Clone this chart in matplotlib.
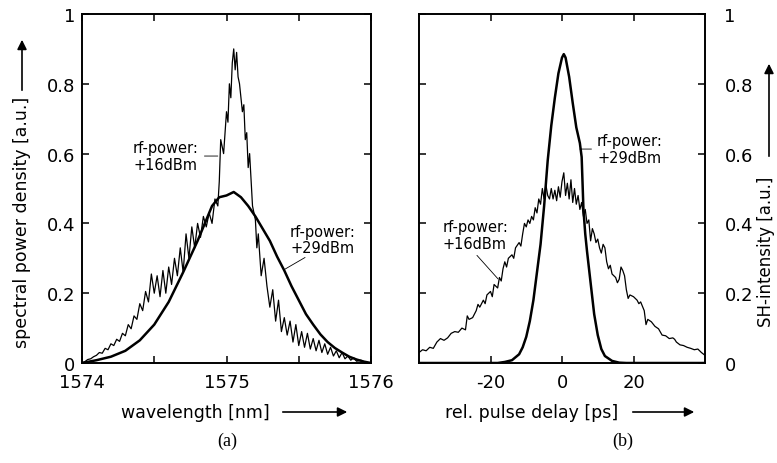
import matplotlib
matplotlib.use('Agg')
import matplotlib.pyplot as plt

plt.rcParams['font.family'] = ['DejaVu Sans']
plt.rcParams['axes.unicode_minus'] = False

# (a) optical spectrum, +16 dBm (noisy, fringes) and +29 dBm (smooth)
wl_16 = [1574.00, 1574.02, 1574.04, 1574.06, 1574.08, 1574.10, 1574.12, 1574.14, 1574.16, 1574.18,
         1574.20, 1574.22, 1574.24, 1574.26, 1574.28, 1574.30, 1574.32, 1574.34, 1574.36, 1574.38,
         1574.40, 1574.42, 1574.44, 1574.46, 1574.48, 1574.50, 1574.52, 1574.54, 1574.56, 1574.58,
         1574.60, 1574.62, 1574.64, 1574.66, 1574.68, 1574.70, 1574.72, 1574.74, 1574.76, 1574.78,
         1574.80, 1574.82, 1574.84, 1574.86, 1574.88, 1574.90, 1574.92, 1574.94, 1574.95, 1574.96,
         1574.98, 1575.00, 1575.01, 1575.02, 1575.03, 1575.04, 1575.05, 1575.06, 1575.07, 1575.08,
         1575.09, 1575.10, 1575.11, 1575.12, 1575.13, 1575.14, 1575.15, 1575.16, 1575.18, 1575.20,
         1575.21, 1575.22, 1575.24, 1575.26, 1575.28, 1575.30, 1575.32, 1575.34, 1575.36, 1575.38,
         1575.40, 1575.42, 1575.44, 1575.46, 1575.48, 1575.50, 1575.52, 1575.54, 1575.56, 1575.58,
         1575.60, 1575.62, 1575.64, 1575.66, 1575.68, 1575.70, 1575.72, 1575.74, 1575.76, 1575.78,
         1575.80, 1575.82, 1575.84, 1575.86, 1575.88, 1575.90, 1575.93, 1575.96, 1576.00]
spec_16 = [0.000, 0.004, 0.010, 0.012, 0.018, 0.022, 0.030, 0.028, 0.042, 0.038,
           0.055, 0.050, 0.068, 0.062, 0.085, 0.078, 0.110, 0.098, 0.135, 0.125,
           0.170, 0.150, 0.205, 0.175, 0.255, 0.200, 0.250, 0.190, 0.265, 0.200,
           0.275, 0.225, 0.300, 0.250, 0.330, 0.260, 0.370, 0.300, 0.390, 0.330,
           0.400, 0.360, 0.420, 0.390, 0.430, 0.400, 0.470, 0.450, 0.520, 0.640,
           0.600, 0.720, 0.690, 0.800, 0.760, 0.860, 0.900, 0.840, 0.890, 0.820,
           0.800, 0.760, 0.720, 0.740, 0.640, 0.660, 0.560, 0.600, 0.450, 0.410,
           0.330, 0.370, 0.250, 0.300, 0.220, 0.160, 0.210, 0.120, 0.180, 0.090,
           0.130, 0.080, 0.120, 0.060, 0.110, 0.050, 0.090, 0.045, 0.085, 0.040,
           0.070, 0.035, 0.065, 0.030, 0.055, 0.025, 0.045, 0.020, 0.035, 0.015,
           0.030, 0.012, 0.020, 0.008, 0.015, 0.005, 0.008, 0.002, 0.000]

wl_29 = [1574.00, 1574.10, 1574.20, 1574.30, 1574.40, 1574.50, 1574.60, 1574.70, 1574.80, 1574.85,
         1574.90, 1574.95, 1575.00, 1575.05, 1575.10, 1575.15, 1575.20, 1575.25, 1575.30, 1575.35,
         1575.40, 1575.45, 1575.50, 1575.55, 1575.60, 1575.65, 1575.70, 1575.75, 1575.80, 1575.85,
         1575.90, 1575.95, 1576.00]
spec_29 = [0.000, 0.008, 0.018, 0.035, 0.065, 0.110, 0.175, 0.260, 0.350, 0.400,
           0.450, 0.475, 0.480, 0.490, 0.475, 0.450, 0.420, 0.385, 0.350, 0.305,
           0.265, 0.220, 0.180, 0.140, 0.110, 0.082, 0.060, 0.043, 0.030, 0.018,
           0.010, 0.004, 0.000]

# (b) SH autocorrelation
delay_16 = [-40, -39, -38, -37, -36, -35, -34, -33, -32, -31, -30, -29, -28, -27, -26.5, -26, -25, -24,
            -23.5, -23, -22, -21.5, -21, -20, -19.5, -19, -18, -17.5, -17, -16.5, -16, -15.5, -15,
            -14, -13.5, -13, -12, -11.5, -11, -10.5, -10, -9.5, -9, -8.5, -8, -7.5, -7, -6.5, -6,
            -5.5, -5, -4.5, -4, -3.5, -3, -2.5, -2, -1.5, -1, -0.5, 0, 0.5, 1, 1.5, 2, 2.5, 3, 3.5,
            4, 4.5, 5, 5.5, 6, 6.5, 7, 7.5, 8, 8.5, 9, 9.5, 10, 10.5, 11, 11.5, 12, 12.5, 13, 13.5,
            14, 15, 15.5, 16, 16.5, 17, 17.5, 18, 18.5, 19, 20, 21, 21.5, 22, 23, 23.5, 24, 25, 26,
            27, 28, 29, 30, 31, 31.5, 32, 33, 34, 35, 36, 37, 38, 39, 40]
sh_16 = [0.030, 0.038, 0.035, 0.045, 0.042, 0.060, 0.070, 0.065, 0.072, 0.085, 0.090, 0.088, 0.100,
         0.095, 0.135, 0.125, 0.130, 0.150, 0.168, 0.160, 0.180, 0.170, 0.195, 0.205, 0.190, 0.225,
         0.215, 0.245, 0.235, 0.270, 0.290, 0.275, 0.300, 0.310, 0.300, 0.330, 0.345, 0.335, 0.370,
         0.400, 0.390, 0.410, 0.400, 0.420, 0.410, 0.445, 0.430, 0.470, 0.455, 0.500, 0.470, 0.510,
         0.480, 0.470, 0.500, 0.470, 0.495, 0.465, 0.505, 0.475, 0.520, 0.545, 0.480, 0.515, 0.470,
         0.525, 0.460, 0.500, 0.455, 0.480, 0.440, 0.460, 0.420, 0.440, 0.400, 0.410, 0.350, 0.385,
         0.370, 0.345, 0.355, 0.330, 0.315, 0.340, 0.330, 0.290, 0.270, 0.280, 0.255, 0.245, 0.230,
         0.240, 0.275, 0.265, 0.250, 0.210, 0.185, 0.195, 0.190, 0.180, 0.170, 0.175, 0.150, 0.110,
         0.125, 0.118, 0.105, 0.098, 0.080, 0.078, 0.070, 0.072, 0.068, 0.060, 0.052, 0.050, 0.045,
         0.042, 0.038, 0.040, 0.030, 0.022]

delay_29 = [-40, -18, -16, -14, -12, -11, -10, -9, -8, -7, -6, -5, -4, -3, -2, -1, 0, 0.5, 1, 2, 3,
            4, 5, 5.5, 6, 6.5, 7, 8, 9, 10, 11, 12, 14, 16, 18, 40]
sh_29 = [0.000, 0.000, 0.003, 0.008, 0.025, 0.045, 0.075, 0.120, 0.180, 0.260, 0.340, 0.450, 0.580,
         0.680, 0.760, 0.830, 0.875, 0.885, 0.875, 0.820, 0.745, 0.675, 0.630, 0.590, 0.440, 0.370,
         0.320, 0.230, 0.140, 0.080, 0.040, 0.020, 0.006, 0.001, 0.000, 0.000]

yticks = [0, 0.2, 0.4, 0.6, 0.8, 1]
yticklabels = ['0', '0.2', '0.4', '0.6', '0.8', '1']

W, H = 777, 464
fig = plt.figure(figsize=(W / 100, H / 100), dpi=100)


def px_axes(x0, x1, y0, y1):
    return fig.add_axes([x0 / W, 1 - y1 / H, (x1 - x0) / W, (y1 - y0) / H])


def style(ax):
    ax.tick_params(direction='in', top=True, right=True, length=5, width=1.1,
                   labelsize=13)
    ax.tick_params(axis='x', pad=7)
    ax.tick_params(axis='y', pad=5)
    for s in ax.spines.values():
        s.set_linewidth(1.4)
    ax.set_ylim(0, 1)
    ax.set_yticks(yticks)


def fig_arrow(x0, y0, x1, y1):
    fig.add_artist(matplotlib.patches.FancyArrowPatch(
        (x0 / W, 1 - y0 / H), (x1 / W, 1 - y1 / H), transform=fig.transFigure,
        arrowstyle='-|>', mutation_scale=14, lw=1.2, color='black'))


note = dict(ha='left', va='center', fontsize=10.5, linespacing=1.1)

# ---- panel (a)
ax1 = px_axes(82, 371, 15, 364)
ax1.plot(wl_16, spec_16, color='black', lw=0.9)
ax1.plot(wl_29, spec_29, color='black', lw=1.8)
style(ax1)
ax1.set_xlim(1574, 1576)
ax1.set_xticks([1574, 1574.5, 1575, 1575.5, 1576])
ax1.set_xticklabels(['1574', '', '1575', '', '1576'])
ax1.set_yticklabels(yticklabels)

ax1.annotate('rf-power:\n+16dBm', xy=(1574.94, 0.593), xytext=(1574.353, 0.593), **note,
             arrowprops=dict(arrowstyle='-', lw=0.6, color='black', shrinkA=2, shrinkB=0))
ax1.annotate('rf-power:\n+29dBm', xy=(1575.405, 0.269), xytext=(1575.44, 0.355), **note,
             arrowprops=dict(arrowstyle='-', lw=0.6, color='black', shrinkA=0, shrinkB=0,
                             relpos=(0.3, 0.0)))

fig.text(22 / W, 1 - 222 / H, 'spectral power density [a.u.]', rotation=90,
         ha='center', va='center', fontsize=12.5)
fig_arrow(22, 94, 22, 38)
fig.text(195 / W, 1 - 413 / H, 'wavelength [nm]', ha='center', va='center', fontsize=12.5)
fig_arrow(280, 413, 350, 413)
fig.text(227 / W, 1 - 441 / H, '(a)', ha='center', va='center', fontsize=13,
         family='Liberation Serif')

# ---- panel (b)
ax2 = px_axes(419, 705, 15, 364)
ax2.plot(delay_16, sh_16, color='black', lw=0.9)
ax2.plot(delay_29, sh_29, color='black', lw=1.8)
style(ax2)
ax2.set_xlim(-40, 40)
ax2.set_xticks([-20, 0, 20])
ax2.yaxis.tick_right()
ax2.tick_params(left=True, labelleft=False, labelright=True)
ax2.tick_params(axis='y', pad=14)
ax2.set_yticklabels(yticklabels)

ax2.annotate('rf-power:\n+29dBm', xy=(5.0, 0.613), xytext=(9.8, 0.613), **note,
             arrowprops=dict(arrowstyle='-', lw=0.6, color='black', shrinkA=2, shrinkB=0))
ax2.annotate('rf-power:\n+16dBm', xy=(-17.9, 0.241), xytext=(-33.3, 0.367), **note,
             arrowprops=dict(arrowstyle='-', lw=0.6, color='black', shrinkA=2, shrinkB=0,
                             relpos=(0.45, 0.0)))

fig.text(766 / W, 1 - 252 / H, 'SH-intensity [a.u.]', rotation=90,
         ha='center', va='center', fontsize=12)
fig_arrow(769, 160, 769, 62)
fig.text(532 / W, 1 - 413 / H, 'rel. pulse delay [ps]', ha='center', va='center', fontsize=12.5)
fig_arrow(630, 413, 697, 413)
fig.text(623 / W, 1 - 441 / H, '(b)', ha='center', va='center', fontsize=13,
         family='Liberation Serif')

fig.savefig('out.png', dpi=100)
